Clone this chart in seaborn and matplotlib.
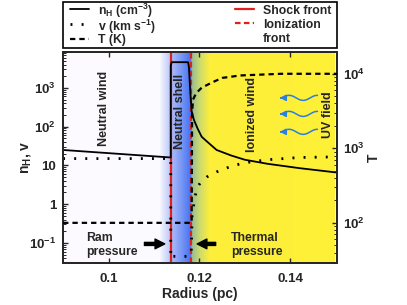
import numpy as np
import pandas as pd
import matplotlib
matplotlib.use("Agg")
import matplotlib.pyplot as plt
from matplotlib.lines import Line2D
from matplotlib.patches import Rectangle
from matplotlib.ticker import FuncFormatter, LogLocator, NullFormatter
import seaborn as sns

# ---- data ----
r_nh = [0.0900, 0.1137, 0.1137, 0.1139, 0.1175, 0.1177, 0.1180, 0.1183, 0.1188,
        0.1196, 0.1205, 0.1216, 0.1238, 0.1270, 0.1300, 0.1350, 0.1420, 0.1505]
n_h = [25, 16, 3800, 4600, 4600, 3500, 800, 250, 150, 90, 55, 42, 25, 18, 14, 11, 8.5, 6.5]

r_v = [0.0900, 0.1137, 0.1137, 0.1140, 0.1175, 0.1182, 0.1184, 0.1190, 0.1196,
       0.1204, 0.1216, 0.1238, 0.1270, 0.1300, 0.1350, 0.1420, 0.1505]
v = [15, 15, 0.04, 0.045, 0.045, 0.05, 0.5, 1.5, 2.8, 3.8, 5.0, 6.8, 9.5, 11.7, 14, 16, 16.6]

r_t = [0.0900, 0.1183, 0.1184, 0.1186, 0.1193, 0.1205, 0.1227, 0.1250, 0.1290, 0.1380, 0.1505]
temp = [100, 100, 3000, 4500, 5500, 6500, 7600, 8800, 9500, 10000, 10000]

r_shock = 0.1137
r_ion = 0.1182

sns.set_style("ticks")
plt.rcParams['font.family'] = ['Liberation Sans', 'DejaVu Sans']
plt.rcParams['font.weight'] = 'bold'
plt.rcParams['mathtext.fontset'] = 'custom'
plt.rcParams['mathtext.rm'] = 'Liberation Sans:bold'
plt.rcParams['mathtext.bf'] = 'Liberation Sans:bold'
plt.rcParams['mathtext.it'] = 'Liberation Sans:bold'

W, H = 407, 305
fig = plt.figure(figsize=(4.07, 3.05), dpi=100)
ax = fig.add_axes([0.155, 0.138, 0.673, 0.692])

# background gradient
stops_x = [0.0900, 0.1111, 0.1136, 0.1138, 0.1180, 0.1183, 0.1200, 0.1222, 0.1500]
stops_c = [(253, 251, 254), (251, 250, 254), (185, 198, 250), (172, 188, 250),
           (72, 115, 240), (150, 190, 150), (205, 218, 110), (252, 238, 58), (255, 240, 55)]
xx = np.linspace(0.09, 0.15, 1200)
img = np.stack([np.interp(xx, stops_x, [c[i] for c in stops_c]) for i in range(3)], axis=-1) / 255
ax.imshow(img[None, :, :], extent=[0.09, 0.15, 0.0305, 8500], aspect='auto', zorder=0,
          interpolation='bilinear')

red = '#e0201c'
ax.axvline(r_shock, color=red, lw=1.6, zorder=2)
ax.axvline(r_ion, color=red, lw=1.6, ls=(0, (2.5, 1.5)), zorder=2)

df_nh = pd.DataFrame({"r": r_nh, "val": n_h})
df_v = pd.DataFrame({"r": r_v, "val": v})
df_t = pd.DataFrame({"r": r_t, "val": temp})

dot_ls = (0, (0.7, 3.3))
dash_ls = (0, (2.4, 1.8))
sns.lineplot(data=df_nh, x="r", y="val", ax=ax, color='k', lw=1.3, estimator=None, sort=False, zorder=3)
sns.lineplot(data=df_v, x="r", y="val", ax=ax, color='k', lw=2.0, estimator=None, sort=False,
             linestyle=dot_ls, zorder=3)

ax.set_yscale('log')
ax.set_xlim(0.09, 0.1503)
ax.set_ylim(0.0305, 8500)

ax2 = ax.twinx()
sns.lineplot(data=df_t, x="r", y="val", ax=ax2, color='k', lw=1.6, estimator=None, sort=False,
             linestyle=dash_ls, zorder=3)
ax2.set_yscale('log')
ax2.set_ylim(29, 19700)
ax2.set_xlim(0.09, 0.1503)


def fmt(val, pos):
    n = int(round(np.log10(val)))
    if n == 0:
        return "1"
    if n == 1:
        return "10"
    return "10$^{%d}$" % n


for a in (ax, ax2):
    a.yaxis.set_major_locator(LogLocator(base=10, numticks=20))
    a.yaxis.set_minor_locator(LogLocator(base=10, subs=np.arange(2, 10), numticks=20))
    a.yaxis.set_major_formatter(FuncFormatter(fmt))
    a.yaxis.set_minor_formatter(NullFormatter())
    for s in a.spines.values():
        s.set_linewidth(1.3)
        s.set_visible(True)

ax.set_xticks([0.10, 0.12, 0.14])
ax.set_xticklabels(["0.1", "0.12", "0.14"])
ax.tick_params(axis='x', which='major', direction='in', length=3.5, width=1, labelsize=9.5,
               top=True, pad=7)
ax.tick_params(axis='y', which='major', direction='in', length=3.5, width=1, labelsize=9.5, pad=5)
ax.tick_params(axis='y', which='minor', direction='in', length=2, width=0.7)
ax2.tick_params(axis='y', which='major', direction='in', length=3.5, width=1, labelsize=9.5, pad=4)
ax2.tick_params(axis='y', which='minor', direction='in', length=2, width=0.7)

ax.set_xlabel("Radius (pc)", fontsize=10, fontweight='bold', labelpad=2)
ax.set_ylabel("n$_{\\mathregular{H}}$, v", fontsize=10, fontweight='bold', labelpad=-3)
ax2.set_ylabel("T", fontsize=10, fontweight='bold', labelpad=2)

# region labels
xt = ax.get_xaxis_transform()
ax.text(0.0989, 0.73, "Neutral wind", rotation=90, ha='center', va='center', fontsize=9,
        fontweight='bold', transform=xt, zorder=4)
ax.text(0.1158, 0.72, "Neutral shell", rotation=90, ha='center', va='center', fontsize=9,
        fontweight='bold', transform=xt, zorder=4)
ax.text(0.1316, 0.705, "Ionized wind", rotation=90, ha='center', va='center', fontsize=9,
        fontweight='bold', transform=xt, zorder=4)
ax.text(0.1484, 0.70, "UV field", rotation=90, ha='center', va='center', fontsize=9,
        fontweight='bold', transform=xt, zorder=4)

ax.text(0.0951, 0.085, "Ram\npressure", ha='left', va='center', fontsize=8.8,
        fontweight='bold', transform=xt, linespacing=1.15, zorder=4)
ax.text(0.1269, 0.085, "Thermal\npressure", ha='left', va='center', fontsize=8.8,
        fontweight='bold', transform=xt, linespacing=1.15, zorder=4)
arrow_kw = dict(arrowstyle='simple,head_width=0.7,head_length=0.7,tail_width=0.22', color='k')
ax.annotate("", xy=(0.1130, 0.09), xytext=(0.1073, 0.09), xycoords=xt, textcoords=xt,
            arrowprops=arrow_kw, zorder=4)
ax.annotate("", xy=(0.1189, 0.09), xytext=(0.1242, 0.09), xycoords=xt, textcoords=xt,
            arrowprops=arrow_kw, zorder=4)

# wavy UV arrows
for yw in (0.782, 0.706, 0.621):
    wx = np.linspace(0.1382, 0.1460, 60)
    wy = yw + 0.012 * np.sin(2 * np.pi * (wx - 0.1382) / 0.0062)
    ax.plot(wx, wy, color='#2a7fe0', lw=1.1, transform=xt, zorder=4)
    ax.annotate("", xy=(0.1377, yw), xytext=(0.1386, yw), xycoords=xt, textcoords=xt,
                arrowprops=dict(arrowstyle='-|>,head_width=0.18,head_length=0.35',
                                color='#2a7fe0', lw=1.1), zorder=4)

# legend box, laid out by hand above the axes
fig.patches.append(Rectangle((63 / W, 1 - 48 / H), 274 / W, 46 / H, transform=fig.transFigure,
                             fill=False, edgecolor='k', lw=1.2))
legend_rows = [
    (70, 8.5, dict(color='k', lw=1.3), "n$_{\\mathregular{H}}$ (cm$^{-3}$)"),
    (70, 24, dict(color='k', lw=2.0, linestyle=dot_ls), "v (km s$^{-1}$)"),
    (70, 39, dict(color='k', lw=1.6, linestyle=dash_ls), "T (K)"),
    (235, 9, dict(color=red, lw=1.6), "Shock front"),
    (235, 23, dict(color=red, lw=1.6, linestyle=(0, (2.5, 1.5))), "Ionization"),
    (235, 37, None, "front"),
]
for px, py, style, label in legend_rows:
    if style is not None:
        fig.add_artist(Line2D([px / W, (px + 19) / W], [1 - py / H, 1 - py / H],
                              transform=fig.transFigure, **style))
    fig.text((px + 28) / W, 1 - py / H, label, ha='left', va='center_baseline',
             fontsize=8.8, fontweight='bold')

fig.savefig("out.png", dpi=100)
